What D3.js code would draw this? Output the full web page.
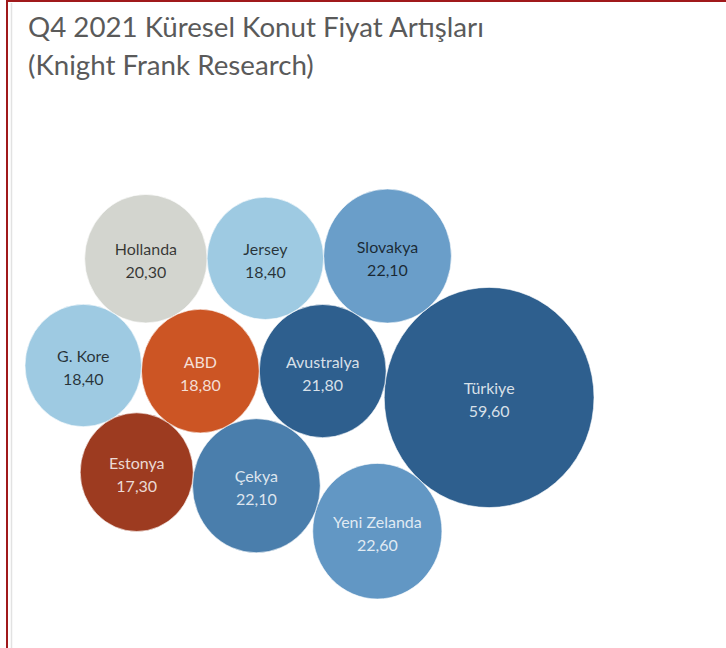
<!DOCTYPE html>
<html>
<head>
<meta charset="utf-8">
<script src="https://cdn.jsdelivr.net/npm/d3@7"></script>
<style>
  html, body { margin: 0; padding: 0; background: #fff; }
  svg { display: block; }
</style>
</head>
<body>
<script>
// ---------------- data ----------------
const titleLines = ["Q4 2021 Küresel Konut Fiyat Artışları", "(Knight Frank Research)"];
const countries = ["Türkiye", "Yeni Zelanda", "Slovakya", "Çekya", "Avustralya", "Hollanda", "ABD", "Jersey", "G. Kore", "Estonya"];
const values    = [59.6, 22.6, 22.1, 22.1, 21.8, 20.3, 18.8, 18.4, 18.4, 17.3];

// packing recipe (which bubbles touch which) – the layout is computed from it
const packing = [
  { name: "Türkiye" },
  { name: "Avustralya", from: "Türkiye", angle: 188.6 },
  { name: "Slovakya", between: ["Türkiye", "Avustralya"], side: 1 },
  { name: "Jersey", between: ["Avustralya", "Slovakya"], side: -1 },
  { name: "ABD", from: "Avustralya", angle: 180 },
  { name: "Hollanda", between: ["Jersey", "ABD"], side: 1 },
  { name: "G. Kore", between: ["Hollanda", "ABD"], side: 1 },
  { name: "Estonya", between: ["G. Kore", "ABD"], side: 1 },
  { name: "Çekya", between: ["Estonya", "ABD"], side: 1 },
  { name: "Yeni Zelanda", between: ["Çekya", "Türkiye"], side: 1 }
];

// ---------------- styles ----------------
const W = 726, H = 648;
const plot = { left: 25, right: 594, top: 189, bottom: 599 };
const fillColor = d3.scaleOrdinal()
  .domain(countries)
  .range(["#2e5f8e", "#6297c4", "#6a9ec9", "#4a7eac", "#2e5f8e", "#d3d5cf", "#cc5524", "#9ecae2", "#9ecae2", "#9d3b20"]);
const darkText = new Set(["Hollanda", "Jersey", "G. Kore", "Slovakya"]);
const fmt = d3.formatLocale({ decimal: ",", thousands: ".", grouping: [3], currency: ["", ""] }).format(".2f");

// ---------------- layout ----------------
const rUnit = d3.scaleSqrt().domain([0, 1]).range([0, 1]);
const nodes = countries.map((c, i) => ({ name: c, value: values[i], r: rUnit(values[i]) }));
const byName = new Map(nodes.map(n => [n.name, n]));

function placeBetween(a, b, c, side) {
  const dx = b.x - a.x, dy = b.y - a.y, d = Math.hypot(dx, dy);
  const da = a.r + c.r, db = b.r + c.r;
  const along = (d * d + da * da - db * db) / (2 * d);
  const h = Math.sqrt(Math.max(0, da * da - along * along));
  const ux = dx / d, uy = dy / d;
  c.x = a.x + ux * along + side * (-uy) * h;
  c.y = a.y + uy * along + side * (ux) * h;
}
packing.forEach(step => {
  const c = byName.get(step.name);
  if (step.from) {
    const a = byName.get(step.from), t = step.angle * Math.PI / 180;
    c.x = a.x + Math.cos(t) * (a.r + c.r);
    c.y = a.y + Math.sin(t) * (a.r + c.r);
  } else if (step.between) {
    placeBetween(byName.get(step.between[0]), byName.get(step.between[1]), c, step.side);
  } else { c.x = 0; c.y = 0; }
});

const x = d3.scaleLinear()
  .domain([d3.min(nodes, n => n.x - n.r), d3.max(nodes, n => n.x + n.r)])
  .range([plot.left, plot.right]);
const y = d3.scaleLinear()
  .domain([d3.min(nodes, n => n.y - n.r), d3.max(nodes, n => n.y + n.r)])
  .range([plot.top, plot.bottom]);
const kx = x(1) - x(0), ky = y(1) - y(0);

// ---------------- drawing ----------------
const svg = d3.select("body").append("svg").attr("width", W).attr("height", H);
svg.append("rect").attr("width", W).attr("height", H).attr("fill", "#fff");

// frame
svg.append("line").attr("x1", 11.5).attr("x2", 11.5).attr("y1", 3).attr("y2", H)
  .attr("stroke", "#e2e2e2").attr("stroke-width", 1.5);
svg.append("line").attr("x1", 7).attr("x2", 7).attr("y1", 0).attr("y2", H)
  .attr("stroke", "#a0191b").attr("stroke-width", 2);
svg.append("line").attr("x1", 6).attr("x2", W).attr("y1", 1).attr("y2", 1)
  .attr("stroke", "#a0191b").attr("stroke-width", 2);

// title (condensed horizontally to mimic the narrow Tableau face)
const titleX = 28;
const title = svg.append("g")
  .attr("font-family", "Lato, 'Open Sans', sans-serif")
  .attr("font-weight", 400).attr("font-size", 27).attr("fill", "#5a5a5a");
const t1 = title.append("text").attr("x", 0).attr("y", 37).text(titleLines[0]);
title.append("text").attr("x", 0).attr("y", 75).text(titleLines[1]);
const sx = 456 / t1.node().getComputedTextLength();
title.attr("transform", `translate(${titleX},0) scale(${sx},1)`);

// bubbles
const g = svg.append("g");
const bub = g.selectAll("g.bubble").data(nodes).join("g").attr("class", "bubble");
bub.append("ellipse")
  .attr("cx", d => x(d.x)).attr("cy", d => y(d.y))
  .attr("rx", d => d.r * kx).attr("ry", d => d.r * ky)
  .attr("fill", d => fillColor(d.name))
  .attr("stroke", "#fff").attr("stroke-width", 0.6);

const lbl = bub.append("text")
  .attr("text-anchor", "middle")
  .attr("font-family", "Lato, 'Open Sans', sans-serif")
  .attr("font-size", 16)
  .attr("fill", d => darkText.has(d.name) ? "#000" : "#fff")
  .attr("fill-opacity", d => darkText.has(d.name) ? 0.75 : 0.82);
lbl.append("tspan").attr("x", d => x(d.x)).attr("y", d => y(d.y) - 3.5).text(d => d.name);
lbl.append("tspan").attr("x", d => x(d.x)).attr("y", d => y(d.y) + 19.5).text(d => fmt(d.value));
</script>
</body>
</html>
